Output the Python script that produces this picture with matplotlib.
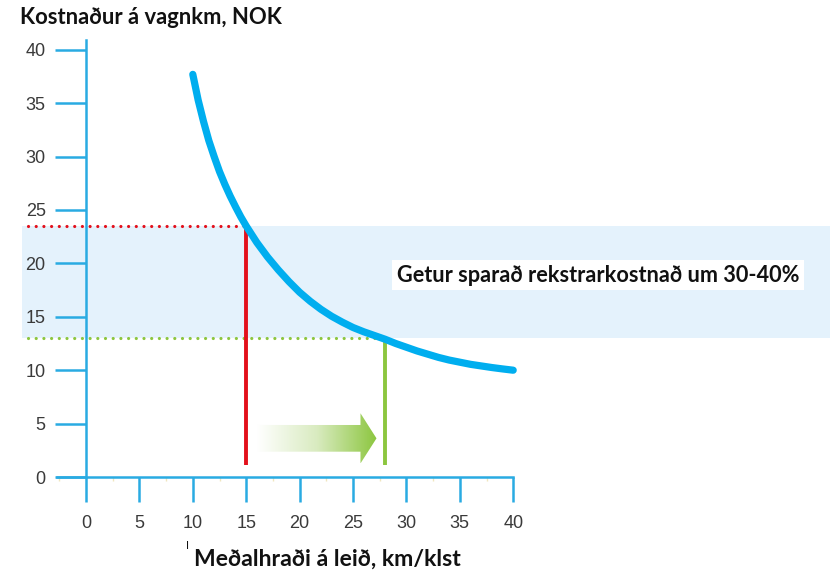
import numpy as np
import matplotlib
matplotlib.use("Agg")
import matplotlib.pyplot as plt
from matplotlib.colors import LinearSegmentedColormap
from matplotlib.patches import Polygon

# data
speed = [10, 10.5, 11, 11.5, 12, 12.5, 13, 13.5, 14, 14.5, 15, 16, 17, 18, 19, 20,
         21, 22, 23, 24, 25, 26, 27, 28, 29, 30, 31, 32, 33, 34, 35, 36, 37, 38, 39, 40]
cost = [37.7, 35.3, 33.3, 31.5, 30.0, 28.6, 27.4, 26.3, 25.3, 24.35, 23.5, 21.95,
        20.6, 19.4, 18.3, 17.3, 16.45, 15.7, 15.05, 14.5, 14.0, 13.6, 13.25, 12.9,
        12.5, 12.15, 11.8, 11.5, 11.2, 10.95, 10.75, 10.55, 10.4, 10.25, 10.12, 10.0]
x_ticks = [0, 5, 10, 15, 20, 25, 30, 35, 40]
y_ticks = [0, 5, 10, 15, 20, 25, 30, 35, 40]
low_speed, low_cost = 15, 23.5
high_speed, high_cost = 28, 13.0

title = "Kostnaður á vagnkm, NOK"
xlabel = "Meðalhraði á leið, km/klst"
note = "Getur sparað rekstrarkostnað um 30-40%"

BLUE = "#00aeef"
AXIS = "#29abe2"
RED = "#e3101b"
GREEN = "#8cc63f"
BAND = "#e4f2fc"

W, H = 830, 572
PX = 10.68          # pixels per data unit
X0, Y0 = 86, 477    # pixel position of the origin

fig = plt.figure(figsize=(W / 100, H / 100), dpi=100)
ax = fig.add_axes([0, 0, 1, 1])
ax.patch.set_alpha(0)

# axes through the origin
for s in ["top", "right"]:
    ax.spines[s].set_visible(False)
ax.spines["left"].set_position(("data", 0))
ax.spines["bottom"].set_position(("data", 0))
ax.spines["left"].set_bounds(0, 40.9)
ax.spines["bottom"].set_bounds(-2.7, 40)
for s in ["left", "bottom"]:
    ax.spines[s].set_color(AXIS)
    ax.spines[s].set_linewidth(1.8)

ax.set_xticks(x_ticks)
ax.set_yticks(y_ticks)
ax.set_xticks(np.arange(-2.5, 40, 5), minor=True)
ax.tick_params(axis="x", which="major", direction="out", length=18, width=1.8,
               color=AXIS, pad=9, labelsize=13, labelcolor="#3a3a3a")
ax.tick_params(axis="x", which="minor", direction="out", length=3, width=1,
               color="#f0e6bf")
ax.tick_params(axis="y", which="major", direction="out", length=22, width=1.8,
               color=AXIS, pad=7, labelsize=13, labelcolor="#3a3a3a")
for lab in ax.get_xticklabels() + ax.get_yticklabels():
    lab.set_fontfamily("Liberation Sans")

# savings band
ax.axhspan(high_cost, low_cost, xmin=22 / W, xmax=1, color=BAND, lw=0, zorder=0)
ax.hlines(low_cost, -5.4, low_speed, colors=RED, lw=2.3,
          linestyles=(0, (0.01, 2.4)), capstyle="round", zorder=2)
ax.hlines(high_cost, -5.4, high_speed, colors=GREEN, lw=2.3,
          linestyles=(0, (0.01, 2.4)), capstyle="round", zorder=2)
ax.vlines(low_speed, 1.1, low_cost, colors=RED, lw=2.8, zorder=2)
ax.vlines(high_speed, 1.1, high_cost, colors=GREEN, lw=2.8, zorder=2)

# cost curve
ax.plot(speed, cost, color=BLUE, lw=5.2, solid_capstyle="round",
        solid_joinstyle="round", zorder=3)

# gradient arrow
a0, a1, tip = low_speed + 1.0, high_speed - 2.3, high_speed - 0.8
yc, hb, hh = 3.62, 1.25, 2.35
verts = [(a0, yc - hb), (a1, yc - hb), (a1, yc - hh), (tip, yc),
         (a1, yc + hh), (a1, yc + hb), (a0, yc + hb)]
arrow = Polygon(verts, closed=True, fc="none", ec="none")
ax.add_patch(arrow)
cmap = LinearSegmentedColormap.from_list("fade", ["#ffffff", "#d9ebc0", GREEN])
grad = np.linspace(0, 1, 256).reshape(1, -1)
im = ax.imshow(grad, cmap=cmap, aspect="auto", interpolation="bicubic",
               extent=(a0, tip, yc - hh, yc + hh), zorder=2)
im.set_clip_path(arrow)
ax.set_xlim(-X0 / PX, (W - X0) / PX)
ax.set_ylim(-(H - Y0) / PX, Y0 / PX)

# texts
ax.text(29.1, 18.9, note, fontsize=15.6, fontweight="bold", family="Lato",
        color="#111111", va="center", ha="left", zorder=4,
        bbox=dict(boxstyle="square,pad=0.2", fc="white", ec="none"))
fig.text(20 / W, 1 - 18 / H, title, fontsize=15.8, fontweight="bold",
         family="Lato", color="#111111", va="center", ha="left")
fig.text(194 / W, 1 - 559 / H, xlabel, fontsize=16.6, fontweight="bold",
         family="Lato", color="#111111", va="center", ha="left")
fig.text(186 / W, 1 - 546 / H, "I", fontsize=8, family="Liberation Sans",
         color="#111111", va="center", ha="left")

fig.savefig("out.png", dpi=100)
